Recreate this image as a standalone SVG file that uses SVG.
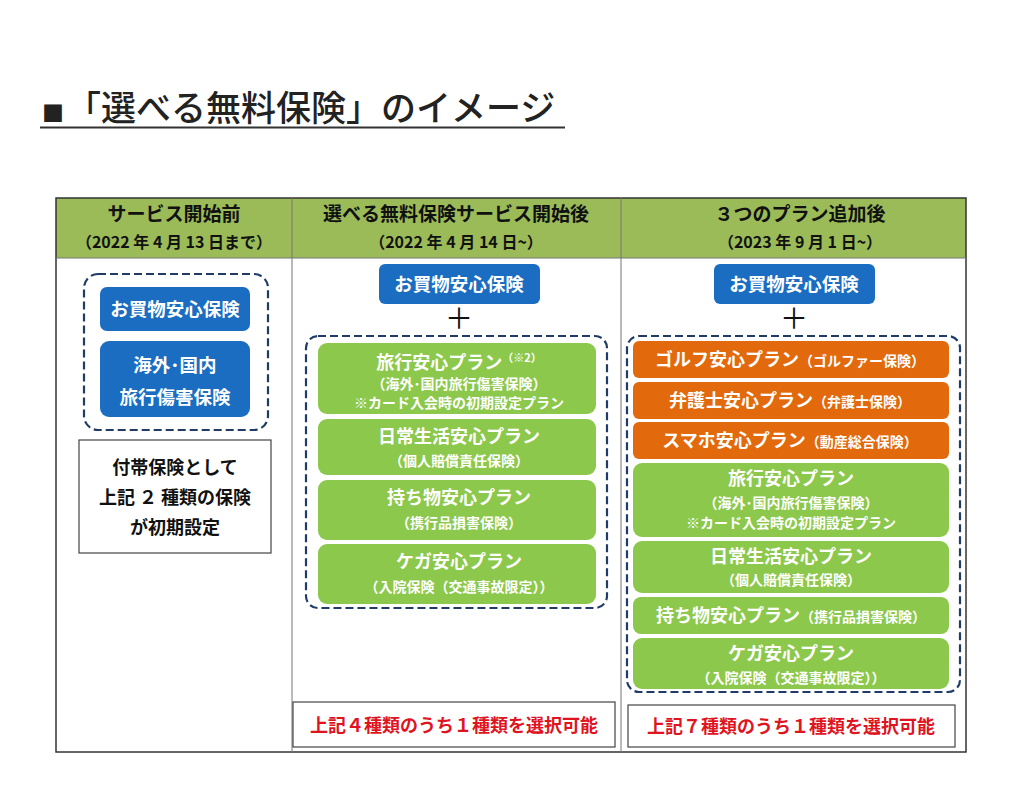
<svg xmlns="http://www.w3.org/2000/svg" width="1024" height="792" viewBox="0 0 1024 792">
<style>
text{font-family:"Noto Sans CJK JP","Noto Sans CJK SC",sans-serif;font-weight:bold;text-anchor:middle}
.hd{font-size:19px;fill:#111}
.hd2{font-size:16px;fill:#111}
.blue{fill:#1A6DC0}
.green{fill:#8CC84B}
.orange{fill:#E2690C}
.w1{font-size:18px;fill:#fff}
.w2{font-size:14px;fill:#fff}
.wb{font-size:18.5px;fill:#fff}
.dash{fill:none;stroke:#203C66;stroke-width:2.2;stroke-dasharray:8 4}
.red{font-size:18px;fill:#E0141E}
.blk{font-size:18px;fill:#111}
.plus{font-size:28px;font-weight:normal;fill:#111}
</style>
<rect width="1024" height="792" fill="#fff"/>
<g id="title">
<text x="42" y="121" style="font-size:35px;text-anchor:start;fill:#222;font-weight:500"><tspan font-size="22">■</tspan><tspan x="66">「選べる無料保険」のイメージ</tspan></text>
<line x1="40" y1="127.5" x2="565" y2="127.5" stroke="#333" stroke-width="2"/>
</g>
<g id="table">
<rect x="56" y="198" width="910" height="60" fill="#9BBB59"/>
<rect x="56" y="198" width="910" height="554" fill="none" stroke="#333" stroke-width="1.5"/>
<line x1="56" y1="258" x2="966" y2="258" stroke="#777" stroke-width="1"/>
<line x1="292" y1="198" x2="292" y2="752" stroke="#777" stroke-width="1"/>
<line x1="621" y1="198" x2="621" y2="752" stroke="#777" stroke-width="1"/>
<text class="hd" x="174" y="221">サービス開始前</text>
<text class="hd2" x="174" y="248">（2022 年 4 月 13 日まで）</text>
<text class="hd" x="456" y="221">選べる無料保険サービス開始後</text>
<text class="hd2" x="456" y="248">（2022 年 4 月 14 日~）</text>
<text class="hd" x="800" y="221">３つのプラン追加後</text>
<text class="hd2" x="800" y="248">（2023 年 9 月 1 日~）</text>
</g>
<g id="col1">
<rect class="dash" x="84" y="274" width="184" height="156" rx="14"/>
<rect class="blue" x="100" y="287" width="150" height="44" rx="7"/>
<text class="wb" x="175" y="316">お買物安心保険</text>
<rect class="blue" x="100" y="341" width="150" height="76" rx="9"/>
<text class="wb" x="175" y="372">海外･国内</text>
<text class="wb" x="175" y="404">旅行傷害保険</text>
<rect x="79" y="440" width="192" height="113" fill="#fff" stroke="#444" stroke-width="1.2"/>
<text class="blk" x="175" y="474">付帯保険として</text>
<text class="blk" x="175" y="504">上記 ２ 種類の保険</text>
<text class="blk" x="175" y="534">が初期設定</text>
</g>
<g id="col2">
<rect class="blue" x="379" y="264" width="161" height="40" rx="6"/>
<text class="wb" x="459" y="291">お買物安心保険</text>
<text class="plus" x="459" y="329">＋</text>
<rect class="dash" x="306" y="336" width="301" height="272" rx="12"/>
<rect class="green" x="318" y="343" width="278" height="71" rx="9"/>
<text class="w1" x="459" y="369">旅行安心プラン<tspan font-size="11" dy="-7">（※2）</tspan></text>
<text class="w2" x="459" y="389">（海外･国内旅行傷害保険）</text>
<text class="w2" x="459" y="408">※カード入会時の初期設定プラン</text>
<rect class="green" x="318" y="419" width="278" height="56" rx="9"/>
<text class="w1" x="459" y="443">日常生活安心プラン</text>
<text class="w2" x="459" y="466">（個人賠償責任保険）</text>
<rect class="green" x="318" y="480" width="278" height="60" rx="9"/>
<text class="w1" x="459" y="504">持ち物安心プラン</text>
<text class="w2" x="459" y="528">（携行品損害保険）</text>
<rect class="green" x="318" y="544" width="278" height="60" rx="9"/>
<text class="w1" x="459" y="568">ケガ安心プラン</text>
<text class="w2" x="459" y="592">（入院保険（交通事故限定））</text>
<rect x="293" y="702" width="322" height="45" fill="#fff" stroke="#444" stroke-width="1.2"/>
<text class="red" x="454" y="732">上記４種類のうち１種類を選択可能</text>
</g>
<g id="col3">
<rect class="blue" x="714" y="264" width="161" height="40" rx="6"/>
<text class="wb" x="794" y="291">お買物安心保険</text>
<text class="plus" x="794" y="329">＋</text>
<rect class="dash" x="627" y="336" width="333" height="356" rx="12"/>
<rect class="orange" x="633" y="341" width="316" height="37" rx="6"/>
<text class="w1" x="790" y="366">ゴルフ安心プラン<tspan font-size="14">（ゴルファー保険）</tspan></text>
<rect class="orange" x="633" y="382" width="316" height="37" rx="6"/>
<text class="w1" x="790" y="407">弁護士安心プラン<tspan font-size="14">（弁護士保険）</tspan></text>
<rect class="orange" x="633" y="422" width="316" height="37" rx="6"/>
<text class="w1" x="790" y="447">スマホ安心プラン<tspan font-size="14">（動産総合保険）</tspan></text>
<rect class="green" x="633" y="463" width="316" height="74" rx="9"/>
<text class="w1" x="791" y="485">旅行安心プラン</text>
<text class="w2" x="791" y="508">（海外･国内旅行傷害保険）</text>
<text class="w2" x="791" y="528">※カード入会時の初期設定プラン</text>
<rect class="green" x="633" y="541" width="316" height="52" rx="9"/>
<text class="w1" x="791" y="563">日常生活安心プラン</text>
<text class="w2" x="791" y="585">（個人賠償責任保険）</text>
<rect class="green" x="633" y="597" width="316" height="37" rx="8"/>
<text class="w1" x="791" y="622">持ち物安心プラン<tspan font-size="14">（携行品損害保険）</tspan></text>
<rect class="green" x="633" y="638" width="316" height="51" rx="9"/>
<text class="w1" x="791" y="660">ケガ安心プラン</text>
<text class="w2" x="791" y="683">（入院保険（交通事故限定））</text>
<rect x="628" y="705" width="327" height="42" fill="#fff" stroke="#444" stroke-width="1.2"/>
<text class="red" x="791" y="733">上記７種類のうち１種類を選択可能</text>
</g>
</svg>
